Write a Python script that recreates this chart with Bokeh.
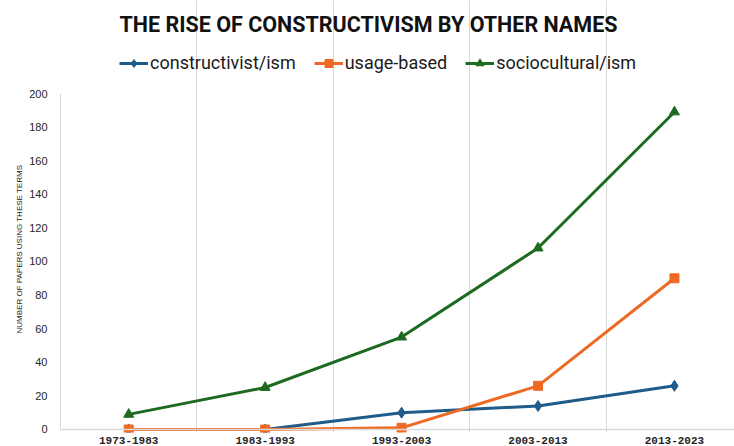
from bokeh.plotting import figure
from bokeh.models import (Range1d, FixedTicker, Span, Label, Legend, LegendItem, Title)
from bokeh.embed import file_html
from bokeh.resources import INLINE

# ---- data ----
periods = ["1973-1983", "1983-1993", "1993-2003", "2003-2013", "2013-2023"]
constructivist = [0, 0, 10, 14, 26]
usage_based = [0, 0, 1, 26, 90]
sociocultural = [9, 25, 55, 108, 189]
y_ticks = [0, 20, 40, 60, 80, 100, 120, 140, 160, 180, 200]

title_text = "THE RISE OF CONSTRUCTIVISM BY OTHER NAMES"
y_label_text = "NUMBER OF PAPERS USING THESE TERMS"
series_names = ["constructivist/ism", "usage-based", "sociocultural/ism"]

BLUE = "#1F5C8A"
ORANGE = "#EE6A24"
GREEN = "#1C6B20"
GRID = "#D9D9D9"

xs = list(range(len(periods)))

W, H = 734, 446
FB = 432  # expected frame bottom (px from top)
p = figure(width=W, height=H, output_backend="svg", toolbar_location=None,
           x_range=Range1d(-0.5, 4.44), y_range=Range1d(-1.79, 255.36),
           min_border_left=60, min_border_right=0, min_border_top=0,
           min_border_bottom=0, outline_line_color=None)
p.title.visible = False

# axes
p.xaxis.ticker = FixedTicker(ticks=xs)
p.xaxis.major_label_overrides = {i: s for i, s in enumerate(periods)}
p.xaxis.axis_line_color = None
p.xaxis.major_tick_line_color = None
p.xaxis.major_tick_out = 0
p.xaxis.major_tick_in = 0
p.xaxis.minor_tick_line_color = None
p.xaxis.major_label_standoff = 4
p.xaxis.major_label_text_font = "Liberation Mono"
p.xaxis.major_label_text_font_style = "bold"
p.xaxis.major_label_text_font_size = "11px"
p.xaxis.major_label_text_color = "#262626"

p.yaxis.ticker = FixedTicker(ticks=y_ticks)
p.yaxis.bounds = (0, 200)
p.yaxis.axis_line_color = GRID
p.yaxis.major_tick_line_color = None
p.yaxis.major_tick_out = 0
p.yaxis.major_tick_in = 0
p.yaxis.minor_tick_line_color = None
p.yaxis.major_label_standoff = 13
p.yaxis.major_label_text_font = "Liberation Sans"
p.yaxis.major_label_text_font_size = "11px"
p.yaxis.major_label_text_color = "#262626"

p.ygrid.visible = False
p.xgrid.ticker = FixedTicker(ticks=[i + 0.5 for i in xs])
p.xgrid.bounds = (0, 200)
p.xgrid.grid_line_color = GRID

p.add_layout(Span(location=0, dimension="width", line_color=GRID, line_width=1.5))

# series
l1 = p.line(xs, constructivist, line_color=BLUE, line_width=3)
m1 = p.scatter(xs, constructivist, marker="diamond", size=11, fill_color=BLUE, line_color=BLUE)
l3 = p.line(xs, sociocultural, line_color=GREEN, line_width=3)
m3 = p.scatter(xs, sociocultural, marker="triangle", size=10, fill_color=GREEN, line_color=GREEN)
l2 = p.line(xs, usage_based, line_color=ORANGE, line_width=3)
m2 = p.scatter(xs, usage_based, marker="square", size=9, fill_color=ORANGE, line_color=ORANGE)

legend = Legend(items=[
    LegendItem(label=series_names[0], renderers=[l1, m1]),
    LegendItem(label=series_names[1], renderers=[l2, m2]),
    LegendItem(label=series_names[2], renderers=[l3, m3]),
], location=(59, FB - 73), orientation="horizontal", padding=0, margin=0,
    spacing=18, glyph_width=29, label_standoff=2,
    border_line_color=None, background_fill_alpha=0,
    label_text_font="Roboto", label_text_font_size="18px", label_text_color="#1A1A1A")
p.add_layout(legend, "center")

# chart title
p.add_layout(Label(x=368 - 60, y=FB - 23.5, x_units="screen", y_units="screen",
                   text=title_text, text_align="center", text_baseline="middle",
                   text_font="Roboto", text_font_style="bold", text_font_size="21.5px",
                   text_color="#111111"))

# y axis title
ytitle = Title(text=y_label_text, align="left", offset=FB - 333, standoff=6,
               text_font="Liberation Sans", text_font_style="normal",
               text_font_size="8px", text_color="#1A1A1A")
p.add_layout(ytitle, "left")

open("out.html", "w").write(file_html(p, INLINE))
